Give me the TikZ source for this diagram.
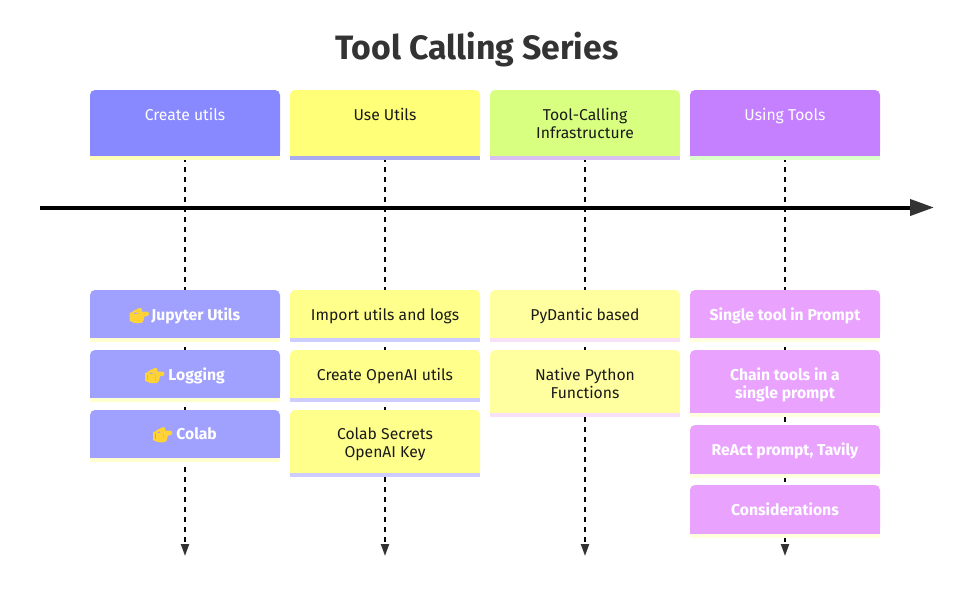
\documentclass[tikz,border=0pt]{standalone}
\usepackage{fontspec}
\setmainfont{Fira Sans}
\newfontfamily\emojifont[FakeBold=10]{Noto Emoji}
\usetikzlibrary{arrows.meta,backgrounds}
\definecolor{hA}{HTML}{8888FF}\definecolor{hAl}{HTML}{FFFFBB}
\definecolor{hB}{HTML}{FFFF78}\definecolor{hBl}{HTML}{AAAAEE}
\definecolor{hC}{HTML}{D8FF80}\definecolor{hCl}{HTML}{D8C0F0}
\definecolor{hD}{HTML}{C480FF}\definecolor{hDl}{HTML}{DDFFCC}
\definecolor{tA}{HTML}{A0A0FF}\definecolor{tAl}{HTML}{FFFFD0}
\definecolor{tB}{HTML}{FFFF8C}\definecolor{tBl}{HTML}{CCCCFF}
\definecolor{tC}{HTML}{FFFF9F}\definecolor{tCl}{HTML}{F8E0F8}
\definecolor{tD}{HTML}{E9A3FF}\definecolor{tDl}{HTML}{FFFFDD}
\definecolor{ink}{HTML}{333333}
\definecolor{darktext}{HTML}{1A1A1A}
\definecolor{emo}{HTML}{FFD335}
\newcommand{\pointer}{\smash{{\color{emo}\makebox[0pt][l]{\kern2.5pt\raisebox{-1pt}{\rule{7.5pt}{8pt}}}\emojifont\fontsize{15}{18}\selectfont\symbol{"1F449}}}}
\newcommand{\tlbox}[8]{%
  \node[boxbase,fill=#5,text=#7,anchor=north west] (#1) at (#2,#3)
    {\parbox[t][#4pt][t]{190pt}{\vspace*{\boxpad}\centering #8\par}};
  \fill[#5] ([yshift=6pt]#1.south west) rectangle (#1.south east);
  \fill[#6] (#1.south west) rectangle ([yshift=-3.5pt]#1.south east);
}
\newlength{\boxpad}\setlength{\boxpad}{18pt}
\tikzset{
  x=1pt,y=-1pt,
  boxbase/.style={inner sep=0pt,outer sep=0pt,rounded corners=5pt,font=\fontsize{15.7}{18}\selectfont},
  lifeline/.style={line width=2pt,black,dash pattern=on 5pt off 5pt,dash phase=9pt,
     -{Triangle[length=12pt,width=8pt,color=ink,fill=ink]}},
  timeaxis/.style={line width=4pt,black,-{Triangle[length=24pt,width=16pt,color=ink,fill=ink]}},
  titletext/.style={text=ink,font=\fontsize{33.8}{38}\selectfont\bfseries}
}
\begin{document}
\begin{tikzpicture}
\useasboundingbox (0,0) rectangle (966,600);
\node[titletext] (title) at (477,50) {Tool Calling Series};
% section headers
\tlbox{h1}{90}{90}{66}{hA}{hAl}{white}{Create utils}
\tlbox{h2}{290}{90}{66}{hB}{hBl}{darktext}{Use Utils}
\tlbox{h3}{490}{90}{66}{hC}{hCl}{darktext}{Tool-Calling\\Infrastructure}
\tlbox{h4}{690}{90}{66}{hD}{hDl}{white}{Using Tools}
% tasks
\newcommand{\wb}{\bfseries}
\tlbox{a1}{90}{290}{48}{tA}{tAl}{white}{\pointer\,\wb Jupyter Utils}
\tlbox{a2}{90}{350}{48}{tA}{tAl}{white}{\pointer\ \wb Logging}
\tlbox{a3}{90}{410}{48}{tA}{tAl}{white}{\pointer\ \wb Colab}
\tlbox{b1}{290}{290}{48}{tB}{tBl}{darktext}{Import utils and logs}
\tlbox{b2}{290}{350}{48}{tB}{tBl}{darktext}{Create OpenAI utils}
\tlbox{b3}{290}{410}{63}{tB}{tBl}{darktext}{Colab Secrets\\OpenAI Key}
\tlbox{c1}{490}{290}{48}{tC}{tCl}{darktext}{PyDantic based}
\tlbox{c2}{490}{350}{63}{tC}{tCl}{darktext}{Native Python\\Functions}
\tlbox{d1}{690}{290}{48}{tD}{tDl}{white}{\wb Single tool in Prompt}
\tlbox{d2}{690}{350}{63}{tD}{tDl}{white}{\wb Chain tools in a\\single prompt}
\tlbox{d3}{690}{425}{49}{tD}{tDl}{white}{\wb ReAct prompt, Tavily}
\tlbox{d4}{690}{485}{49}{tD}{tDl}{white}{\wb Considerations}
% connectors
\coordinate (e1) at (185,556);
\coordinate (e2) at (385,556);
\coordinate (e3) at (585,556);
\coordinate (e4) at (785,556);
\coordinate (axisstart) at (40,207.5);
\coordinate (axisend) at (934,207.5);
\begin{scope}[on background layer]
\draw[lifeline] (h1.south) -- (e1);
\draw[lifeline] (h2.south) -- (e2);
\draw[lifeline] (h3.south) -- (e3);
\draw[lifeline] (h4.south) -- (e4);
\end{scope}
\draw[timeaxis] (axisstart) -- (axisend);
\end{tikzpicture}
\end{document}
